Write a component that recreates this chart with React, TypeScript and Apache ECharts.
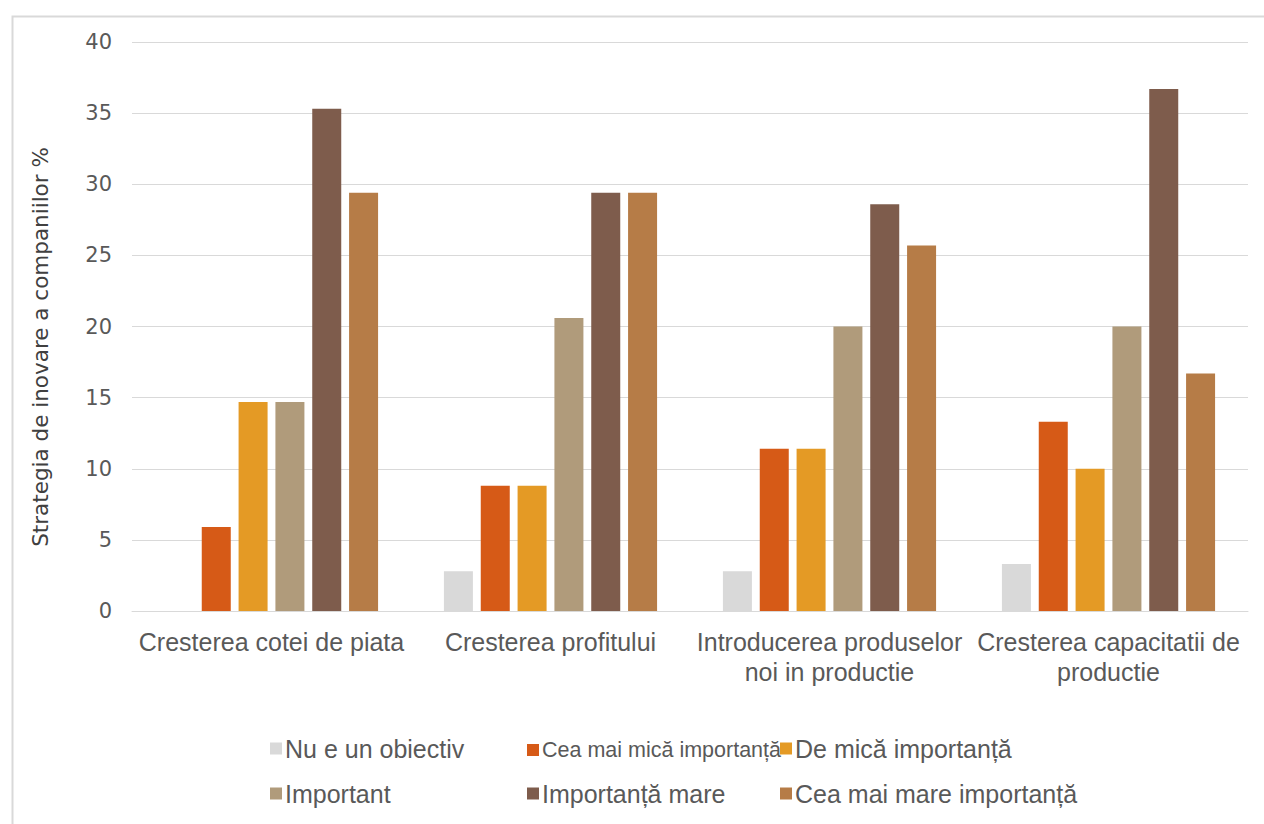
import React, { useEffect, useRef } from "react";
import * as echarts from "echarts";

const categories = [
  "Cresterea cotei de piata",
  "Cresterea profitului",
  "Introducerea produselor\nnoi in productie",
  "Cresterea capacitatii de\nproductie",
];

const seriesNames = [
  "Nu e un obiectiv",
  "Cea mai mică importanță",
  "De mică importanță",
  "Important",
  "Importanță mare",
  "Cea mai mare importanță",
];

const nuEObiectiv = [0, 2.8, 2.8, 3.3];
const ceaMaiMica = [5.9, 8.8, 11.4, 13.3];
const deMica = [14.7, 8.8, 11.4, 10.0];
const important = [14.7, 20.6, 20.0, 20.0];
const importantaMare = [35.3, 29.4, 28.6, 36.7];
const ceaMaiMare = [29.4, 29.4, 25.7, 16.7];

const seriesValues = [nuEObiectiv, ceaMaiMica, deMica, important, importantaMare, ceaMaiMare];

const colors = ["#d9d9d9", "#d65a17", "#e49a25", "#b09b7b", "#7e5c4c", "#b67c47"];

const yTicks = [0, 5, 10, 15, 20, 25, 30, 35, 40];

const yAxisTitle = "Strategia de inovare a companiilor %";

export default function App() {
  const ref = useRef<HTMLDivElement>(null);

  useEffect(() => {
    if (!ref.current) return;
    const chart = echarts.init(ref.current, null, { renderer: "svg" });

    const legendPos = [
      { left: 270, top: 736 },
      { left: 527, top: 739 },
      { left: 780, top: 736 },
      { left: 270, top: 781 },
      { left: 527, top: 781 },
      { left: 780, top: 781 },
    ];
    const legendFontSizes = [25, 21.5, 25, 25, 25, 25];

    const legends = seriesNames.map((name, i) => ({
      show: true,
      data: [name],
      left: legendPos[i].left,
      top: legendPos[i].top,
      itemWidth: 12,
      itemHeight: 12,
      itemGap: 0,
      icon: "rect",
      padding: 0,
      textStyle: {
        fontFamily: "Liberation Sans",
        fontSize: legendFontSizes[i],
        color: "#595959",
        padding: [0, 0, 0, -2],
      },
      selectedMode: false,
    }));

    chart.setOption({
      animation: false,
      backgroundColor: "#ffffff",
      color: colors,
      legend: legends,
      graphic: [
        {
          type: "rect",
          left: 10,
          top: 14,
          shape: { width: 1280, height: 840 },
          style: { fill: "none", stroke: "#d9d9d9", lineWidth: 2 },
          silent: true,
        },
        {
          type: "text",
          x: 40,
          y: 347,
          rotation: Math.PI / 2,
          style: {
            text: yAxisTitle,
            fontFamily: "DejaVu Sans",
            fontSize: 21.5,
            fill: "#404040",
            align: "center",
            verticalAlign: "middle",
          },
          silent: true,
        },
      ],
      grid: { left: 132, right: 16, top: 42, bottom: 213 },
      xAxis: {
        type: "category",
        data: categories,
        axisLine: { lineStyle: { color: "#d9d9d9", width: 1 } },
        axisTick: { show: false },
        axisLabel: {
          fontFamily: "Liberation Sans",
          fontSize: 25,
          color: "#595959",
          margin: 16,
          lineHeight: 30,
          interval: 0,
        },
      },
      yAxis: {
        type: "value",
        min: yTicks[0],
        max: yTicks[yTicks.length - 1],
        interval: 5,
        axisLine: { show: false },
        axisTick: { show: false },
        axisLabel: {
          fontFamily: "DejaVu Sans",
          fontSize: 21,
          color: "#595959",
          margin: 20,
        },
        splitLine: { lineStyle: { color: "#d9d9d9", width: 1 } },
      },
      series: seriesNames.map((name, i) => ({
        name,
        type: "bar",
        data: seriesValues[i],
        barWidth: 29,
        barGap: "27%",
        itemStyle: { color: colors[i] },
      })),
    });

    return () => chart.dispose();
  }, []);

  return (
    <div
      ref={ref}
      style={{ position: "fixed", left: 0, top: 0, width: 1264, height: 824 }}
    />
  );
}
